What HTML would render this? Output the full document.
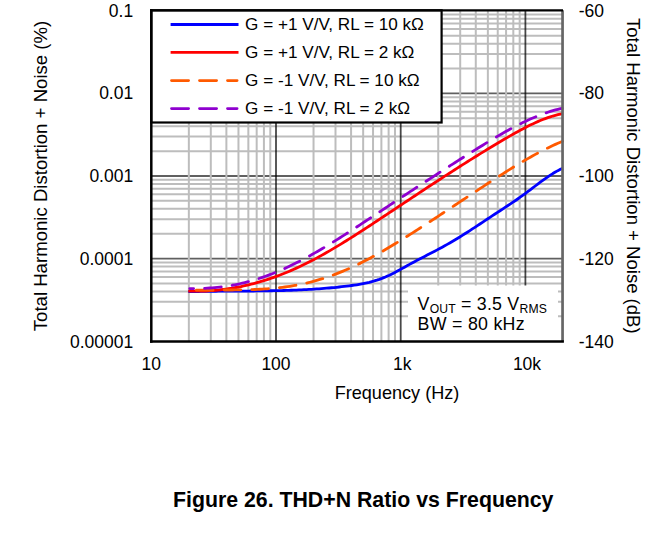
<!DOCTYPE html><html><head><meta charset="utf-8"><style>html,body{margin:0;padding:0;background:#fff;overflow:hidden;}svg{display:block;}text{font-family:"Liberation Sans",sans-serif;fill:#000;}</style></head><body>
<svg width="663" height="540" viewBox="0 0 663 540">
<rect x="0" y="0" width="663" height="540" fill="#fff"/>
<path d="M151.5 316.33H562.6 M151.5 301.79H562.6 M151.5 291.47H562.6 M151.5 283.47H562.6 M151.5 276.92H562.6 M151.5 271.39H562.6 M151.5 266.60H562.6 M151.5 262.38H562.6 M151.5 233.73H562.6 M151.5 219.19H562.6 M151.5 208.87H562.6 M151.5 200.87H562.6 M151.5 194.32H562.6 M151.5 188.79H562.6 M151.5 184.00H562.6 M151.5 179.78H562.6 M151.5 151.13H562.6 M151.5 136.59H562.6 M151.5 126.27H562.6 M151.5 118.27H562.6 M151.5 111.72H562.6 M151.5 106.19H562.6 M151.5 101.40H562.6 M151.5 97.18H562.6 M151.5 68.53H562.6 M151.5 53.99H562.6 M151.5 43.67H562.6 M151.5 35.67H562.6 M151.5 29.12H562.6 M151.5 23.59H562.6 M151.5 18.80H562.6 M151.5 14.58H562.6" stroke="#bdbdbd" stroke-width="2" fill="none"/>
<path d="M151.5 258.60H562.6 M151.5 176.00H562.6 M151.5 93.40H562.6" stroke="#606060" stroke-width="1.8" fill="none"/>
<path d="M188.84 10.3V341.5 M210.80 10.3V341.5 M226.38 10.3V341.5 M238.46 10.3V341.5 M248.34 10.3V341.5 M256.68 10.3V341.5 M263.92 10.3V341.5 M270.29 10.3V341.5 M313.54 10.3V341.5 M335.50 10.3V341.5 M351.08 10.3V341.5 M363.16 10.3V341.5 M373.04 10.3V341.5 M381.38 10.3V341.5 M388.62 10.3V341.5 M394.99 10.3V341.5 M438.24 10.3V341.5 M460.20 10.3V341.5 M475.78 10.3V341.5 M487.86 10.3V341.5 M497.74 10.3V341.5 M506.08 10.3V341.5 M513.32 10.3V341.5 M519.69 10.3V341.5" stroke="#bdbdbd" stroke-width="2" fill="none"/>
<path d="M276.00 10.3V341.5 M400.70 10.3V341.5 M525.40 10.3V341.5" stroke="#000" stroke-opacity="0.72" stroke-width="1.8" fill="none"/>
<rect x="408" y="285.5" width="150" height="56" fill="#fff"/>
<path d="M188.30 291.71 L190.81 291.64 L193.33 291.58 L195.84 291.53 L198.36 291.48 L200.87 291.44 L203.38 291.40 L205.90 291.36 L208.41 291.33 L210.93 291.30 L213.44 291.27 L215.96 291.24 L218.47 291.22 L220.98 291.20 L223.50 291.18 L226.01 291.17 L228.53 291.15 L231.04 291.14 L233.55 291.12 L236.07 291.11 L238.58 291.09 L241.10 291.08 L243.61 291.06 L246.12 291.05 L248.64 291.03 L251.15 291.01 L253.67 290.99 L256.18 290.97 L258.69 290.94 L261.21 290.91 L263.72 290.88 L266.24 290.85 L268.75 290.81 L271.27 290.77 L273.78 290.72 L276.29 290.67 L278.81 290.61 L281.32 290.55 L283.84 290.48 L286.35 290.41 L288.86 290.33 L291.38 290.25 L293.89 290.15 L296.41 290.06 L298.92 289.95 L301.43 289.84 L303.95 289.71 L306.46 289.58 L308.98 289.44 L311.49 289.30 L314.00 289.14 L316.52 288.97 L319.03 288.80 L321.55 288.61 L324.06 288.42 L326.58 288.21 L329.09 287.99 L331.60 287.76 L334.12 287.52 L336.63 287.27 L339.15 287.01 L341.66 286.73 L344.17 286.44 L346.69 286.14 L349.20 285.82 L351.72 285.49 L354.23 285.14 L356.74 284.76 L359.26 284.35 L361.77 283.90 L364.29 283.41 L366.80 282.88 L369.31 282.30 L371.83 281.65 L374.34 280.95 L376.86 280.18 L379.37 279.34 L381.89 278.42 L384.40 277.42 L386.91 276.33 L389.43 275.17 L391.94 273.94 L394.46 272.66 L396.97 271.33 L399.48 269.97 L402.00 268.59 L404.51 267.18 L407.03 265.78 L409.54 264.38 L412.05 263.01 L414.57 261.65 L417.08 260.31 L419.60 258.99 L422.11 257.69 L424.62 256.39 L427.14 255.09 L429.65 253.80 L432.17 252.50 L434.68 251.19 L437.20 249.87 L439.71 248.54 L442.22 247.18 L444.74 245.80 L447.25 244.40 L449.77 242.96 L452.28 241.50 L454.79 240.00 L457.31 238.49 L459.82 236.94 L462.34 235.38 L464.85 233.80 L467.36 232.20 L469.88 230.58 L472.39 228.95 L474.91 227.31 L477.42 225.66 L479.93 224.01 L482.45 222.34 L484.96 220.68 L487.48 219.01 L489.99 217.35 L492.51 215.68 L495.02 214.03 L497.53 212.37 L500.05 210.73 L502.56 209.09 L505.08 207.44 L507.59 205.79 L510.10 204.13 L512.62 202.44 L515.13 200.73 L517.65 198.99 L520.16 197.21 L522.67 195.41 L525.19 193.57 L527.70 191.70 L530.22 189.81 L532.73 187.90 L535.24 186.00 L537.76 184.10 L540.27 182.23 L542.79 180.39 L545.30 178.59 L547.82 176.85 L550.33 175.17 L552.84 173.57 L555.36 172.06 L557.87 170.65 L560.39 169.35 L562.90 168.17" stroke="#0000ff" stroke-width="2.8" fill="none" stroke-linejoin="round"/>
<path d="M188.30 291.07 L190.81 291.14 L193.33 291.19 L195.84 291.21 L198.36 291.19 L200.87 291.15 L203.38 291.08 L205.90 290.98 L208.41 290.85 L210.93 290.69 L213.44 290.50 L215.96 290.28 L218.47 290.04 L220.98 289.76 L223.50 289.46 L226.01 289.12 L228.53 288.76 L231.04 288.37 L233.55 287.95 L236.07 287.50 L238.58 287.02 L241.10 286.51 L243.61 285.98 L246.12 285.41 L248.64 284.82 L251.15 284.20 L253.67 283.55 L256.18 282.87 L258.69 282.16 L261.21 281.43 L263.72 280.66 L266.24 279.87 L268.75 279.05 L271.27 278.20 L273.78 277.32 L276.29 276.42 L278.81 275.48 L281.32 274.52 L283.84 273.53 L286.35 272.51 L288.86 271.46 L291.38 270.38 L293.89 269.28 L296.41 268.15 L298.92 266.99 L301.43 265.80 L303.95 264.59 L306.46 263.34 L308.98 262.08 L311.49 260.78 L314.00 259.46 L316.52 258.12 L319.03 256.76 L321.55 255.37 L324.06 253.97 L326.58 252.54 L329.09 251.10 L331.60 249.63 L334.12 248.15 L336.63 246.65 L339.15 245.13 L341.66 243.60 L344.17 242.06 L346.69 240.50 L349.20 238.92 L351.72 237.34 L354.23 235.74 L356.74 234.13 L359.26 232.52 L361.77 230.89 L364.29 229.26 L366.80 227.62 L369.31 225.97 L371.83 224.32 L374.34 222.66 L376.86 221.00 L379.37 219.33 L381.89 217.67 L384.40 216.00 L386.91 214.33 L389.43 212.66 L391.94 210.98 L394.46 209.31 L396.97 207.64 L399.48 205.97 L402.00 204.30 L404.51 202.63 L407.03 200.97 L409.54 199.30 L412.05 197.63 L414.57 195.97 L417.08 194.31 L419.60 192.64 L422.11 190.99 L424.62 189.33 L427.14 187.68 L429.65 186.03 L432.17 184.38 L434.68 182.73 L437.20 181.09 L439.71 179.46 L442.22 177.82 L444.74 176.19 L447.25 174.57 L449.77 172.95 L452.28 171.33 L454.79 169.72 L457.31 168.11 L459.82 166.51 L462.34 164.92 L464.85 163.33 L467.36 161.74 L469.88 160.17 L472.39 158.59 L474.91 157.03 L477.42 155.47 L479.93 153.92 L482.45 152.37 L484.96 150.84 L487.48 149.31 L489.99 147.78 L492.51 146.27 L495.02 144.76 L497.53 143.27 L500.05 141.78 L502.56 140.30 L505.08 138.83 L507.59 137.36 L510.10 135.91 L512.62 134.48 L515.13 133.06 L517.65 131.67 L520.16 130.30 L522.67 128.95 L525.19 127.64 L527.70 126.36 L530.22 125.11 L532.73 123.91 L535.24 122.75 L537.76 121.63 L540.27 120.56 L542.79 119.54 L545.30 118.57 L547.82 117.66 L550.33 116.82 L552.84 116.03 L555.36 115.31 L557.87 114.66 L560.39 114.08 L562.90 113.58" stroke="#ff0000" stroke-width="2.8" fill="none" stroke-linejoin="round"/>
<path d="M189.70 290.36 L192.20 290.29 L194.71 290.24 L197.21 290.19 L199.72 290.15 L202.22 290.12 L204.73 290.09 L207.23 290.07 L209.74 290.06 L212.24 290.05 L214.75 290.04 L217.25 290.03 L219.76 290.03 L222.26 290.02 L224.77 290.01 L227.27 290.00 L229.78 289.99 L232.28 289.98 L234.78 289.95 L237.29 289.93 L239.79 289.89 L242.30 289.85 L244.80 289.80 L247.31 289.74 L249.81 289.67 L252.32 289.58 L254.82 289.49 L257.33 289.38 L259.83 289.26 L262.34 289.12 L264.84 288.96 L267.35 288.79 L269.85 288.60 L272.36 288.39 L274.86 288.15 L277.36 287.90 L279.87 287.63 L282.37 287.33 L284.88 287.01 L287.38 286.66 L289.89 286.29 L292.39 285.89 L294.90 285.46 L297.40 285.00 L299.91 284.51 L302.41 283.99 L304.92 283.44 L307.42 282.86 L309.93 282.25 L312.43 281.60 L314.93 280.92 L317.44 280.21 L319.94 279.46 L322.45 278.69 L324.95 277.88 L327.46 277.04 L329.96 276.17 L332.47 275.27 L334.97 274.34 L337.48 273.38 L339.98 272.39 L342.49 271.36 L344.99 270.31 L347.50 269.23 L350.00 268.12 L352.51 266.98 L355.01 265.81 L357.51 264.61 L360.02 263.38 L362.52 262.12 L365.03 260.84 L367.53 259.53 L370.04 258.20 L372.54 256.84 L375.05 255.46 L377.55 254.06 L380.06 252.64 L382.56 251.20 L385.07 249.74 L387.57 248.27 L390.08 246.78 L392.58 245.27 L395.09 243.75 L397.59 242.22 L400.09 240.67 L402.60 239.12 L405.10 237.56 L407.61 235.98 L410.11 234.40 L412.62 232.81 L415.12 231.22 L417.63 229.61 L420.13 228.00 L422.64 226.39 L425.14 224.77 L427.65 223.14 L430.15 221.51 L432.66 219.87 L435.16 218.23 L437.67 216.59 L440.17 214.94 L442.67 213.29 L445.18 211.64 L447.68 209.99 L450.19 208.33 L452.69 206.67 L455.20 205.01 L457.70 203.35 L460.21 201.69 L462.71 200.03 L465.22 198.37 L467.72 196.71 L470.23 195.06 L472.73 193.40 L475.24 191.75 L477.74 190.10 L480.24 188.45 L482.75 186.80 L485.25 185.16 L487.76 183.53 L490.26 181.89 L492.77 180.26 L495.27 178.64 L497.78 177.03 L500.28 175.42 L502.79 173.82 L505.29 172.23 L507.80 170.66 L510.30 169.09 L512.81 167.54 L515.31 166.01 L517.82 164.49 L520.32 162.99 L522.82 161.50 L525.33 160.04 L527.83 158.59 L530.34 157.17 L532.84 155.77 L535.35 154.39 L537.85 153.04 L540.36 151.71 L542.86 150.41 L545.37 149.14 L547.87 147.90 L550.38 146.69 L552.88 145.51 L555.39 144.36 L557.89 143.25 L560.40 142.17 L562.90 141.13" stroke="#ff5a00" stroke-width="2.8" fill="none" stroke-linejoin="round" stroke-dasharray="16.7 11" stroke-dashoffset="21.0" stroke-linecap="round"/>
<path d="M189.70 288.58 L192.20 288.59 L194.71 288.59 L197.21 288.55 L199.72 288.50 L202.22 288.42 L204.73 288.31 L207.23 288.18 L209.74 288.01 L212.24 287.83 L214.75 287.61 L217.25 287.36 L219.76 287.09 L222.26 286.78 L224.77 286.45 L227.27 286.08 L229.78 285.68 L232.28 285.25 L234.78 284.78 L237.29 284.29 L239.79 283.75 L242.30 283.19 L244.80 282.59 L247.31 281.95 L249.81 281.28 L252.32 280.57 L254.82 279.82 L257.33 279.05 L259.83 278.24 L262.34 277.39 L264.84 276.52 L267.35 275.61 L269.85 274.67 L272.36 273.69 L274.86 272.69 L277.36 271.66 L279.87 270.59 L282.37 269.50 L284.88 268.37 L287.38 267.22 L289.89 266.04 L292.39 264.83 L294.90 263.60 L297.40 262.34 L299.91 261.06 L302.41 259.75 L304.92 258.42 L307.42 257.06 L309.93 255.69 L312.43 254.29 L314.93 252.87 L317.44 251.44 L319.94 249.98 L322.45 248.51 L324.95 247.02 L327.46 245.51 L329.96 243.99 L332.47 242.46 L334.97 240.91 L337.48 239.35 L339.98 237.77 L342.49 236.19 L344.99 234.59 L347.50 232.98 L350.00 231.37 L352.51 229.74 L355.01 228.11 L357.51 226.47 L360.02 224.83 L362.52 223.18 L365.03 221.53 L367.53 219.87 L370.04 218.21 L372.54 216.55 L375.05 214.89 L377.55 213.22 L380.06 211.56 L382.56 209.90 L385.07 208.24 L387.57 206.58 L390.08 204.92 L392.58 203.26 L395.09 201.60 L397.59 199.95 L400.09 198.30 L402.60 196.64 L405.10 194.99 L407.61 193.34 L410.11 191.70 L412.62 190.05 L415.12 188.41 L417.63 186.77 L420.13 185.13 L422.64 183.50 L425.14 181.86 L427.65 180.23 L430.15 178.60 L432.66 176.98 L435.16 175.36 L437.67 173.74 L440.17 172.12 L442.67 170.51 L445.18 168.89 L447.68 167.29 L450.19 165.68 L452.69 164.08 L455.20 162.49 L457.70 160.89 L460.21 159.30 L462.71 157.72 L465.22 156.14 L467.72 154.56 L470.23 152.98 L472.73 151.41 L475.24 149.85 L477.74 148.29 L480.24 146.73 L482.75 145.19 L485.25 143.65 L487.76 142.12 L490.26 140.60 L492.77 139.10 L495.27 137.61 L497.78 136.14 L500.28 134.68 L502.79 133.24 L505.29 131.83 L507.80 130.43 L510.30 129.06 L512.81 127.71 L515.31 126.39 L517.82 125.10 L520.32 123.84 L522.82 122.60 L525.33 121.40 L527.83 120.23 L530.34 119.09 L532.84 118.00 L535.35 116.93 L537.85 115.91 L540.36 114.93 L542.86 113.99 L545.37 113.09 L547.87 112.24 L550.38 111.44 L552.88 110.68 L555.39 109.97 L557.89 109.31 L560.40 108.70 L562.90 108.15" stroke="#8f00cf" stroke-width="2.8" fill="none" stroke-linejoin="round" stroke-dasharray="16.7 11" stroke-dashoffset="12.8" stroke-linecap="round"/>
<rect x="151.3" y="10.3" width="290.3" height="112.2" fill="#fff" stroke="#000" stroke-width="2.2"/>
<path d="M170.6 24.5H238.5" stroke="#0000ff" stroke-width="2.8"/>
<text x="245.1" y="30.3" font-size="17.15">G = +1 V/V, RL = 10 kΩ</text>
<path d="M170.6 52.3H238.5" stroke="#ff0000" stroke-width="2.8"/>
<text x="245.1" y="58.1" font-size="17.15">G = +1 V/V, RL = 2 kΩ</text>
<path d="M171.5 80.6H237.1" stroke="#ff5a00" stroke-width="2.8" stroke-dasharray="17.1 10.9" stroke-linecap="round"/>
<text x="245.1" y="86.4" font-size="17.15">G = -1 V/V, RL = 10 kΩ</text>
<path d="M171.5 108.6H237.1" stroke="#8f00cf" stroke-width="2.8" stroke-dasharray="17.1 10.9" stroke-linecap="round"/>
<text x="245.1" y="114.4" font-size="17.15">G = -1 V/V, RL = 2 kΩ</text>
<path d="M562.55 10.3V341.5" stroke="#666" stroke-width="2.7"/>
<path d="M150 10.3H563" stroke="#000" stroke-width="2.2"/>
<path d="M151.3 9.2V342.8" stroke="#000" stroke-width="2.5"/>
<path d="M150 341.5H563.9" stroke="#000" stroke-width="2.5"/>
<text x="417.6" y="309.8" font-size="17.8" letter-spacing="0.2">V<tspan font-size="12.2" dy="3.4">OUT</tspan><tspan dy="-3.4"> = 3.5 V</tspan><tspan font-size="12.2" dy="3.4">RMS</tspan></text>
<text x="417.6" y="330.4" font-size="17.8" textLength="107" lengthAdjust="spacing">BW = 80 kHz</text>
<text x="133.2" y="16.5" font-size="17.5" text-anchor="end">0.1</text>
<text x="133.2" y="99.3" font-size="17.5" text-anchor="end">0.01</text>
<text x="133.2" y="182.1" font-size="17.5" text-anchor="end">0.001</text>
<text x="133.2" y="265.0" font-size="17.5" text-anchor="end">0.0001</text>
<text x="133.2" y="347.8" font-size="17.5" text-anchor="end">0.00001</text>
<text x="578.8" y="16.5" font-size="17.5">-60</text>
<text x="578.8" y="99.3" font-size="17.5">-80</text>
<text x="578.8" y="182.1" font-size="17.5">-100</text>
<text x="578.8" y="265.0" font-size="17.5">-120</text>
<text x="578.8" y="347.8" font-size="17.5">-140</text>
<text x="151.3" y="370" font-size="17.5" text-anchor="middle">10</text>
<text x="276.0" y="370" font-size="17.5" text-anchor="middle">100</text>
<text x="402.2" y="370" font-size="17.5" text-anchor="middle">1k</text>
<text x="527.0" y="370" font-size="17.5" text-anchor="middle">10k</text>
<text x="397" y="399" font-size="18.1" text-anchor="middle">Frequency (Hz)</text>
<text transform="translate(47.0 176) rotate(-90)" font-size="18.6" text-anchor="middle">Total Harmonic Distortion + Noise (%)</text>
<text transform="translate(626.5 175.8) rotate(90)" font-size="18.55" text-anchor="middle">Total Harmonic Distortion + Noise (dB)</text>
<text x="363.2" y="506.5" font-size="21.3" font-weight="bold" text-anchor="middle">Figure 26. THD+N Ratio vs Frequency</text>
</svg></body></html>
